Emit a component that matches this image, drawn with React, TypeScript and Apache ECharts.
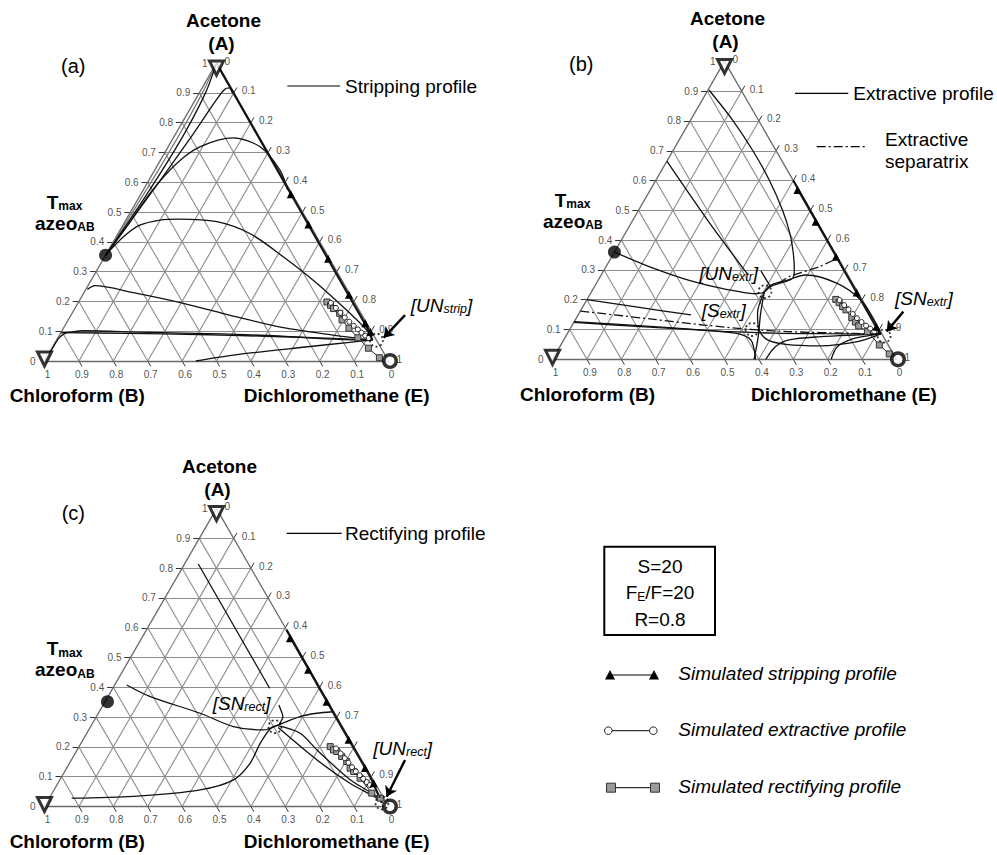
import React, { useEffect, useRef } from "react";
import * as echarts from "echarts";

// composition point: [x_Acetone (A), x_Dichloromethane (E)], x_Chloroform = 1 - A - E
type Comp = [number, number];

const FONT = "'Liberation Sans', Arial, Helvetica, sans-serif";

const tickValues = [0, 0.1, 0.2, 0.3, 0.4, 0.5, 0.6, 0.7, 0.8, 0.9, 1];
const tickLabels = ["0", "0.1", "0.2", "0.3", "0.4", "0.5", "0.6", "0.7", "0.8", "0.9", "1"];

// ---------------- (a) stripping ----------------
const aAzeo: Comp = [0.355, 0];
const aUNRing: Comp = [0.07, 0.93];
const aEdgeProfile: Comp[] = [[1, 0], [0.6, 0.397], [0.3, 0.695], [0.1, 0.894], [0.07, 0.918]];
const aApex1: Comp[] = [[0.355, 0], [0.55, 0.008], [0.75, 0.012], [0.9, 0.009], [1, 0]];
const aApex2: Comp[] = [[0.355, 0], [0.55, 0.017], [0.75, 0.025], [0.9, 0.018], [1, 0]];
const aProf1: Comp[] = [[0.355, 0], [0.605, 0.033], [0.761, 0.051], [0.873, 0.061], [0.912, 0.068], [0.917, 0.079], [0.9, 0.096]];
const aProf2: Comp[] = [[0.355, 0], [0.451, 0.0135], [0.563, 0.025], [0.663, 0.0525], [0.719, 0.092], [0.749, 0.174], [0.719, 0.267], [0.641, 0.364], [0.574, 0.42]];
const aProf3: Comp[] = [[0.355, 0], [0.417, 0.021], [0.456, 0.049], [0.473, 0.099], [0.4765, 0.151], [0.468, 0.267], [0.428, 0.383], [0.35, 0.519], [0.261, 0.661], [0.16, 0.808], [0.104, 0.8845], [0.07, 0.918]];
const aProf4: Comp[] = [[0.2405, 0.0045], [0.2528, 0.0204], [0.2293, 0.1435], [0.1935, 0.307], [0.151, 0.473], [0.112, 0.638], [0.087, 0.796], [0.07, 0.918]];
const aProf5: Comp[] = [[0.003, 0.001], [0.048, 0.002], [0.076, 0.003], [0.093, 0.013], [0.098, 0.034], [0.1015, 0.062], [0.097, 0.227], [0.092, 0.423], [0.085, 0.619], [0.0726, 0.819], [0.07, 0.918]];
const aProf6: Comp[] = [[0.095, 0], [0.093, 0.2], [0.089, 0.4], [0.083, 0.6], [0.076, 0.8], [0.07, 0.918]];
const aProf7: Comp[] = [[0, 0.44], [0.022, 0.554], [0.047, 0.735], [0.062, 0.85], [0.07, 0.918]];
const aStripSim: Comp[] = [[0.56, 0.436], [0.458, 0.538], [0.343, 0.653], [0.222, 0.774], [0.127, 0.869], [0.098, 0.898]];
const aExtrSim: Comp[] = [[0.195, 0.735], [0.178, 0.758], [0.162, 0.779], [0.146, 0.8], [0.132, 0.82], [0.118, 0.84], [0.106, 0.858], [0.095, 0.874], [0.085, 0.89], [0.077, 0.904]];
const aRectSim: Comp[] = [[0.198, 0.722], [0.187, 0.738], [0.176, 0.752], [0.16, 0.778], [0.138, 0.796], [0.11, 0.83], [0.078, 0.872], [0.043, 0.92], [0.011, 0.968]];
const aArrow: Comp[] = [[0.154, 0.971], [0.078, 0.947]];

// ---------------- (b) extractive ----------------
const bAzeo: Comp = [0.36, 0];
const bUNRing: Comp = [0.227, 0.504];
const bSRing: Comp = [0.1, 0.53];
const bSNRing: Comp = [0.078, 0.925];
const bEdgeProfile: Comp[] = [[0.6, 0.4], [0.3, 0.697], [0.1, 0.895], [0.085, 0.912]];
const bProf1: Comp[] = [[0.36, 0], [0.311, 0.1255], [0.272, 0.242], [0.242, 0.354], [0.227, 0.429], [0.22, 0.48], [0.225, 0.503]];
const bProf2: Comp[] = [[0.904, 0.003], [0.803, 0.122], [0.7025, 0.23], [0.602, 0.329], [0.501, 0.418], [0.423, 0.4785], [0.356, 0.522], [0.3, 0.553], [0.272, 0.562], [0.258, 0.54], [0.245, 0.512], [0.225, 0.503]];
const bProf3: Comp[] = [[0.665, 0], [0.47, 0.214], [0.285, 0.425]];
const bProf4: Comp[] = [[0.2, 0], [0.175, 0.16], [0.149, 0.328]];
const bProf5: Comp[] = [[0.126, 0], [0.11, 0.24], [0.093, 0.443], [0.085, 0.5], [0.065, 0.544], [0.031, 0.571], [0, 0.59]];
const bProf6: Comp[] = [[0.124, 0], [0.107, 0.24], [0.094, 0.45], [0.088, 0.6], [0.086, 0.75], [0.085, 0.912]];
const bProf7: Comp[] = [[0, 0.586], [0.076, 0.56], [0.154, 0.528], [0.225, 0.503]];
const bProf8: Comp[] = [[0.225, 0.503], [0.154, 0.519], [0.098, 0.552], [0.065, 0.593], [0.05, 0.654], [0.045, 0.755], [0.06, 0.86], [0.085, 0.912]];
const bProf9: Comp[] = [[0, 0.62], [0.043, 0.627], [0.065, 0.655], [0.076, 0.742], [0.082, 0.85], [0.085, 0.912]];
const bProf10: Comp[] = [[0, 0.81], [0.043, 0.807], [0.07, 0.842], [0.08, 0.885], [0.085, 0.912]];
const bProf11: Comp[] = [[0.225, 0.503], [0.249, 0.51], [0.266, 0.55], [0.283, 0.595], [0.255, 0.7], [0.199, 0.797], [0.132, 0.869], [0.085, 0.912]];
const bSeparatrix1: Comp[] = [[0.162, 0], [0.134, 0.228], [0.115, 0.383], [0.1, 0.53], [0.093, 0.637], [0.087, 0.833], [0.085, 0.912]];
const bSeparatrix2: Comp[] = [[0.255, 0.53], [0.2774, 0.549], [0.289, 0.573], [0.311, 0.62], [0.338, 0.657]];
const bStripSim: Comp[] = [[0.568, 0.428], [0.462, 0.534], [0.344, 0.652], [0.224, 0.772], [0.109, 0.887]];
const bExtrSim: Comp[] = [[0.199, 0.735], [0.182, 0.757], [0.167, 0.777], [0.152, 0.797], [0.138, 0.816], [0.125, 0.836], [0.113, 0.855], [0.103, 0.872], [0.094, 0.888]];
const bRectSim: Comp[] = [[0.201, 0.723], [0.19, 0.738], [0.177, 0.755], [0.166, 0.77], [0.14, 0.8], [0.125, 0.818], [0.112, 0.834], [0.093, 0.869], [0.048, 0.926], [0.018, 0.97]];
const bArrow: Comp[] = [[0.16, 0.94], [0.093, 0.925]];

// ---------------- (c) rectifying ----------------
const cAzeo: Comp = [0.352, 0.007];
const cSNRing: Comp = [0.268, 0.536];
const cUNRing: Comp = [0.012, 0.975];
const cEdgeProfile: Comp[] = [[0.593, 0.407], [0.3, 0.697], [0.1, 0.897], [0.012, 0.975]];
const cProf1: Comp[] = [[0.814, 0.04], [0.397, 0.456]];
const cProf2: Comp[] = [[0.408, 0.035], [0.369, 0.123], [0.313, 0.296], [0.2685, 0.415], [0.257, 0.508], [0.272, 0.54]];
const cProf3: Comp[] = [[0.028, 0.065], [0.034, 0.242], [0.056, 0.4245], [0.0895, 0.505], [0.145, 0.525], [0.2125, 0.521], [0.262, 0.526], [0.272, 0.54]];
const cProf4: Comp[] = [[0.272, 0.54], [0.302, 0.592], [0.313, 0.635], [0.318, 0.678]];
const cProf5: Comp[] = [[0.277, 0.544], [0.302, 0.542], [0.324, 0.525], [0.341, 0.511]];
const cProf6: Comp[] = [[0.272, 0.54], [0.246, 0.62], [0.19, 0.697], [0.0895, 0.844], [0.034, 0.949], [0.012, 0.975]];
const cProf7: Comp[] = [[0.265, 0.547], [0.157, 0.713], [0.078, 0.849], [0.022, 0.965], [0.012, 0.975]];
const cStripSim: Comp[] = [[0.565, 0.431], [0.459, 0.537], [0.352, 0.644], [0.224, 0.772], [0.129, 0.867], [0.078, 0.918]];
const cExtrSim: Comp[] = [[0.195, 0.75], [0.178, 0.772], [0.162, 0.792], [0.147, 0.81], [0.132, 0.828], [0.118, 0.846], [0.105, 0.864], [0.093, 0.88], [0.082, 0.896], [0.072, 0.91]];
const cRectSim: Comp[] = [[0.201, 0.73], [0.19, 0.745], [0.1846, 0.7575], [0.168, 0.78], [0.151, 0.803], [0.1286, 0.824], [0.1174, 0.84], [0.095, 0.87], [0.0447, 0.929], [0.028, 0.962]];
const cArrow: Comp[] = [[0.156, 0.97], [0.033, 0.978]];

// right-edge tick labels hidden under annotations in the reference
const hiddenRightLabels: string[][] = [[], [], ["0.8"]];

// ---------------- layout ----------------
const GRIDS = [
  { left: 44.5, top: 63.1, width: 344, height: 297.9 },
  { left: 552.5, top: 61.4, width: 344, height: 297.9 },
  { left: 44.5, top: 508.6, width: 344, height: 297.9 },
];

const toXY = (p: Comp): [number, number] => [p[1] + p[0] / 2, p[0]];
const TICK = 0.018;

function axisSeries(g: number): any[] {
  const grid: any[] = [];
  const ticks: any[] = [];
  for (let i = 1; i <= 9; i++) {
    const v = tickValues[i];
    grid.push({ coords: [toXY([v, 0]), toXY([v, 1 - v])] });
    grid.push({ coords: [toXY([0, v]), toXY([1 - v, v])] });
    grid.push({ coords: [toXY([0, 1 - v]), toXY([1 - v, 0])] });
    ticks.push({ coords: [toXY([v, 0]), toXY([v, -TICK])] });
    ticks.push({ coords: [toXY([1 - v, v]), toXY([1 - v + TICK, v])] });
    ticks.push({ coords: [toXY([0, 1 - v]), toXY([-TICK, 1 - v + TICK])] });
  }
  const edges = [
    { coords: [toXY([0, 0]), toXY([0, 1])] },
    { coords: [toXY([0, 1]), toXY([1, 0])] },
    { coords: [toXY([1, 0]), toXY([0, 0])] },
  ];
  const base = { type: "lines", coordinateSystem: "cartesian2d", xAxisIndex: g, yAxisIndex: g, silent: true, clip: false };
  const lbl = (pos: string, distance: number, offset: number[]) => ({
    show: true, position: pos, distance, offset, formatter: "{b}", color: "#222", fontSize: 10, fontFamily: FONT,
  });
  const sBase = { type: "scatter", xAxisIndex: g, yAxisIndex: g, silent: true, clip: false, symbolSize: 0.1, itemStyle: { color: "rgba(0,0,0,0)" }, z: 4 };
  const rightData = tickValues
    .map((v, i) => ({ value: toXY([1 - v, v]), name: tickLabels[i] }))
    .filter((d) => hiddenRightLabels[g].indexOf(d.name) < 0);
  return [
    { ...base, data: grid, lineStyle: { color: "#8c8c8c", width: 1.1, opacity: 1 }, z: 1 },
    { ...base, data: ticks, lineStyle: { color: "#333", width: 1, opacity: 1 }, z: 1 },
    { ...base, data: edges, lineStyle: { color: "#6a6a6a", width: 1.3, opacity: 1 }, z: 1 },
    { ...sBase, data: tickValues.map((v, i) => ({ value: toXY([v, 0]), name: tickLabels[i] })), label: lbl("left", 9, [0, 0]) },
    { ...sBase, data: rightData, label: lbl("right", 8, [0, -2]) },
    { ...sBase, data: tickValues.map((v, i) => ({ value: toXY([0, 1 - v]), name: tickLabels[i] })), label: lbl("bottom", 8, [3, 0]) },
  ];
}

function curve(g: number, pts: Comp[], o: any = {}): any {
  return {
    type: "line", xAxisIndex: g, yAxisIndex: g, data: pts.map(toXY),
    symbol: "none", showSymbol: false, smooth: o.smooth ?? 0.3, clip: false, silent: true, z: o.z ?? 3,
    lineStyle: { color: o.color ?? "#111", width: o.width ?? 1.3, type: o.type ?? "solid" },
  };
}

function simLine(g: number, pts: Comp[], kind: "tri" | "circ" | "sq"): any {
  const sym = kind === "tri" ? "triangle" : kind === "circ" ? "circle" : "rect";
  const size = kind === "tri" ? 8 : kind === "circ" ? 5 : 6;
  const itemStyle =
    kind === "tri" ? { color: "#000" } :
    kind === "circ" ? { color: "#fff", borderColor: "#222", borderWidth: 1 } :
    { color: "#9a9a9a", borderColor: "#333", borderWidth: 1 };
  return {
    type: "line", xAxisIndex: g, yAxisIndex: g, data: pts.map(toXY), symbol: sym, symbolSize: size,
    showSymbol: true, showAllSymbol: true, itemStyle, smooth: false, clip: false, silent: true,
    z: kind === "tri" ? 6 : kind === "circ" ? 5 : 4,
    lineStyle: { color: "#222", width: 1 },
  };
}

function vertexSeries(g: number, azeo: Comp, rings: Comp[]): any[] {
  const b = { type: "scatter", xAxisIndex: g, yAxisIndex: g, silent: true, clip: false, z: 10 };
  return [
    {
      ...b, symbol: "triangle", symbolRotate: 180, symbolSize: 14,
      itemStyle: { color: "#fff", borderColor: "#000", borderWidth: 3 },
      data: [{ value: toXY([1, 0]), symbolOffset: [0, 5] }, { value: toXY([0, 0]), symbolOffset: [0, -2] }],
    },
    { ...b, symbol: "circle", symbolSize: 12.5, itemStyle: { color: "#fff", borderColor: "#000", borderWidth: 3.5 }, data: [{ value: toXY([0, 1]), symbolOffset: [1.5, 0] }] },
    { ...b, symbol: "circle", symbolSize: 13, itemStyle: { color: "#000" }, data: [toXY(azeo)] },
    { ...b, symbol: "circle", symbolSize: 13, itemStyle: { color: "rgba(0,0,0,0)", borderColor: "#000", borderWidth: 1.8, borderType: [2, 2.5] }, data: rings.map(toXY) },
  ];
}

function arrow(g: number, pts: Comp[]): any {
  return {
    type: "lines", coordinateSystem: "cartesian2d", xAxisIndex: g, yAxisIndex: g, silent: true, clip: false, z: 12,
    symbol: ["none", "arrow"], symbolSize: 10,
    lineStyle: { color: "#000", width: 2.4, opacity: 1 },
    data: [{ coords: pts.map(toXY) }],
  };
}

// ---------------- text helpers ----------------
const rich = {
  B: { fontSize: 19, fontWeight: "bold", fontFamily: FONT, lineHeight: 20, verticalAlign: "middle", color: "#000" },
  Bs: { fontSize: 12, fontWeight: "bold", fontFamily: FONT, lineHeight: 10, verticalAlign: "bottom", color: "#000" },
  I: { fontSize: 19, fontStyle: "italic", fontFamily: FONT, lineHeight: 20, verticalAlign: "middle", color: "#000" },
  Is: { fontSize: 12.5, fontStyle: "italic", fontFamily: FONT, lineHeight: 10, verticalAlign: "bottom", color: "#000" },
  N: { fontSize: 19, fontFamily: FONT, lineHeight: 20, verticalAlign: "middle", color: "#000" },
  Ns: { fontSize: 12, fontFamily: FONT, lineHeight: 10, verticalAlign: "bottom", color: "#000" },
};

function txt(x: number, y: number, text: string, o: any = {}): any {
  const align = o.align ?? "center";
  return {
    type: "text", x, y, silent: true, z: 100,
    style: {
      text, fill: "#000", fontSize: o.size ?? 19, fontWeight: o.bold ? "bold" : "normal",
      fontStyle: o.italic ? "italic" : "normal", fontFamily: FONT,
      align, textAlign: align, verticalAlign: "middle", textVerticalAlign: "middle",
      rich: o.rich ? rich : undefined,
    },
  };
}

function seg(x1: number, y1: number, x2: number, y2: number, o: any = {}): any {
  return {
    type: "line", silent: true, z: 100,
    shape: { x1, y1, x2, y2 },
    style: { stroke: "#000", lineWidth: o.w ?? 1.2, lineDash: o.dash },
  };
}

function panelTexts(dx: number, dy: number, tag: string, center: number, bC: number, eC: number, botY: number): any[] {
  return [
    txt(center, 20 + dy, "Acetone", { bold: true }),
    txt(center - 2, 43 + dy, "(A)", { bold: true }),
    txt(73.3 + dx, 66 + dy, tag, { size: 20 }),
    txt(46.7 + dx, 202 + dy, "{B|T}{Bs|max}", { rich: true, align: "left" }),
    txt(35 + dx, 223 + dy, "{B|azeo}{Bs|AB}", { rich: true, align: "left" }),
    txt(bC, botY, "Chloroform (B)", { bold: true }),
    txt(eC, botY, "Dichloromethane (E)", { bold: true }),
  ];
}

function buildOption(): any {
  const series: any[] = [];
  [0, 1, 2].forEach((g) => series.push(...axisSeries(g)));

  // (a)
  series.push(curve(0, aEdgeProfile, { smooth: false, width: 2.2 }));
  series.push(curve(0, aApex1, { color: "#777", width: 1.2 }));
  series.push(curve(0, aApex2));
  [aProf1, aProf2, aProf3, aProf4, aProf5, aProf6, aProf7].forEach((p) => series.push(curve(0, p)));
  series.push(simLine(0, aRectSim, "sq"), simLine(0, aExtrSim, "circ"), simLine(0, aStripSim, "tri"));
  series.push(...vertexSeries(0, aAzeo, [aUNRing]));
  series.push(arrow(0, aArrow));

  // (b)
  series.push(curve(1, bEdgeProfile, { smooth: false, width: 2.2 }));
  [bProf1, bProf2, bProf3, bProf4, bProf5, bProf6, bProf7, bProf8, bProf9, bProf10, bProf11].forEach((p) => series.push(curve(1, p)));
  series.push(curve(1, bSeparatrix1, { type: [9, 3, 2, 3], width: 1.3 }));
  series.push(curve(1, bSeparatrix2, { type: [9, 3, 2, 3], width: 1.3 }));
  series.push(simLine(1, bRectSim, "sq"), simLine(1, bExtrSim, "circ"), simLine(1, bStripSim, "tri"));
  series.push(...vertexSeries(1, bAzeo, [bUNRing, bSRing, bSNRing]));
  series.push(arrow(1, bArrow));

  // (c)
  series.push(curve(2, cEdgeProfile, { smooth: false, width: 2.2 }));
  series.push(curve(2, cProf1, { smooth: false }));
  [cProf2, cProf3, cProf4, cProf5, cProf6, cProf7].forEach((p) => series.push(curve(2, p)));
  series.push(simLine(2, cRectSim, "sq"), simLine(2, cExtrSim, "circ"), simLine(2, cStripSim, "tri"));
  series.push(...vertexSeries(2, cAzeo, [cSNRing, cUNRing]));
  series.push(arrow(2, cArrow));

  const elements: any[] = [
    ...panelTexts(0, 0, "(a)", 223.5, 77.2, 336.7, 395),
    ...panelTexts(508, -2, "(b)", 727.5, 587.5, 844, 394),
    ...panelTexts(0, 446.7, "(c)", 219.5, 77.2, 336.7, 841.7),
    // panel (a) legend & labels
    seg(287.3, 86, 340, 86),
    txt(345, 86, "Stripping profile", { align: "left" }),
    txt(410.7, 305, "{I|[UN}{Is|strip}{I|]}", { rich: true, align: "left" }),
    // panel (b)
    seg(795, 93.3, 848.3, 93.3),
    txt(853.3, 93.3, "Extractive profile", { align: "left" }),
    seg(816.7, 146.7, 866.7, 146.7, { dash: [9, 3, 2, 3] }),
    txt(926.7, 139.3, "Extractive"),
    txt(926.7, 161.7, "separatrix"),
    txt(699.3, 273.3, "{I|[UN}{Is|extr}{I|]}", { rich: true, align: "left" }),
    seg(761, 271, 769.5, 285, { w: 1.3 }),
    txt(701.7, 310.7, "{I|[S}{Is|extr}{I|]}", { rich: true, align: "left" }),
    txt(895, 298.3, "{I|[SN}{Is|extr}{I|]}", { rich: true, align: "left" }),
    // panel (c)
    seg(286.7, 533.3, 341.7, 533.3),
    txt(345, 533.3, "Rectifying profile", { align: "left" }),
    txt(212.7, 703.3, "{I|[SN}{Is|rect}{I|]}", { rich: true, align: "left" }),
    txt(373.3, 748.3, "{I|[UN}{Is|rect}{I|]}", { rich: true, align: "left" }),
    // parameter box
    { type: "rect", silent: true, z: 100, shape: { x: 604.3, y: 546.7, width: 110.7, height: 88.3 }, style: { fill: "none", stroke: "#000", lineWidth: 2 } },
    txt(660, 566, "S=20"),
    txt(660, 592.7, "{N|F}{Ns|E}{N|/F=20}", { rich: true }),
    txt(660, 619.3, "R=0.8"),
    // simulated legend
    seg(610, 675, 654, 675, { w: 1 }),
    { type: "polygon", silent: true, z: 101, shape: { points: [[605, 679.5], [615, 679.5], [610, 670]] }, style: { fill: "#000" } },
    { type: "polygon", silent: true, z: 101, shape: { points: [[649, 679.5], [659, 679.5], [654, 670]] }, style: { fill: "#000" } },
    txt(678.3, 673.3, "Simulated stripping profile", { italic: true, align: "left" }),
    seg(612, 730.7, 649.5, 730.7, { w: 1 }),
    { type: "circle", silent: true, z: 101, shape: { cx: 608.3, cy: 730.7, r: 3.8 }, style: { fill: "#fff", stroke: "#222", lineWidth: 1 } },
    { type: "circle", silent: true, z: 101, shape: { cx: 653.3, cy: 730.7, r: 3.8 }, style: { fill: "#fff", stroke: "#222", lineWidth: 1 } },
    txt(678.3, 729.3, "Simulated extractive profile", { italic: true, align: "left" }),
    seg(615, 787.7, 651, 787.7, { w: 1 }),
    { type: "rect", silent: true, z: 101, shape: { x: 606.5, y: 783.2, width: 9, height: 9 }, style: { fill: "#9a9a9a", stroke: "#333", lineWidth: 1 } },
    { type: "rect", silent: true, z: 101, shape: { x: 650.5, y: 783.2, width: 9, height: 9 }, style: { fill: "#9a9a9a", stroke: "#333", lineWidth: 1 } },
    txt(678.3, 786.7, "Simulated rectifying profile", { italic: true, align: "left" }),
  ];

  return {
    animation: false,
    backgroundColor: "#fff",
    grid: GRIDS.map((g) => ({ ...g, show: false, containLabel: false })),
    xAxis: GRIDS.map((_, i) => ({ type: "value", gridIndex: i, min: 0, max: 1, show: false })),
    yAxis: GRIDS.map((_, i) => ({ type: "value", gridIndex: i, min: 0, max: 1, show: false })),
    series,
    graphic: { elements },
  };
}

export default function App() {
  const ref = useRef<HTMLDivElement>(null);
  useEffect(() => {
    if (!ref.current) return;
    const chart = echarts.init(ref.current, undefined, { renderer: "svg" });
    chart.setOption(buildOption());
    return () => chart.dispose();
  }, []);
  return <div ref={ref} style={{ position: "absolute", left: 0, top: 0, width: 997, height: 855, background: "#fff" }} />;
}
